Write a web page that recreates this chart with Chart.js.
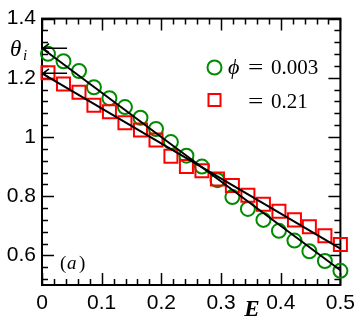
<!DOCTYPE html>
<html><head><meta charset="utf-8">
<script src="https://cdn.jsdelivr.net/npm/chart.js@4/dist/chart.umd.min.js"></script>
<style>html,body{margin:0;padding:0;background:#fff}canvas{display:block}</style>
</head><body>
<canvas id="c" width="361" height="321"></canvas>
<script>
// ---- data ----
const E = [0.010, 0.036, 0.062, 0.087, 0.113, 0.139, 0.165, 0.191, 0.216, 0.242,
           0.268, 0.294, 0.319, 0.345, 0.371, 0.397, 0.423, 0.448, 0.474, 0.500];
const thetaPhi003 = [1.281, 1.256, 1.223, 1.168, 1.131, 1.101, 1.065, 1.027, 0.983, 0.937,
                     0.900, 0.854, 0.797, 0.757, 0.720, 0.683, 0.650, 0.614, 0.581, 0.548];
const thetaPhi021 = [1.217, 1.179, 1.151, 1.107, 1.085, 1.048, 1.024, 0.990, 0.935, 0.900,
                     0.886, 0.858, 0.836, 0.803, 0.773, 0.749, 0.720, 0.697, 0.666, 0.637];
const fitE = [0, 0.5];
const fitPhi003 = [1.300, 0.550];
const fitPhi021 = [1.215, 0.623];
const xTicks = [0, 0.1, 0.2, 0.3, 0.4, 0.5];
const xTickLabels = ['0', '0.1', '0.2', '0.3', '0.4', '0.5'];
const yTicks = [0.6, 0.8, 1.0, 1.2, 1.4];
const yTickLabels = ['0.6', '0.8', '1', '1.2', '1.4'];
const xMinorStep = 0.02, yMinorStep = 0.04;
const arrowLenE = 0.042;
const legendLabels = ['0.003', '0.21'];

const GREEN = 'rgb(0,140,0)', RED = 'rgb(255,0,0)';
const SANS = '"Liberation Sans", Arial, sans-serif';
const SERIF = '"Liberation Serif", "Times New Roman", serif';

const pts = (xs, ys) => xs.map((x, i) => ({x, y: ys[i]}));

function drawEq(ctx, x, y) {
  // wide "=" as real text, horizontally stretched
  ctx.save();
  ctx.translate(x, y);
  ctx.scale(1.3, 1);
  ctx.font = '21px ' + SERIF;
  ctx.fillText('=', 0, 0);
  ctx.restore();
}

const decor = {
  id: 'decor',
  beforeDatasetsDraw(chart) {
    const {ctx, chartArea: a, scales: {x, y}} = chart;
    ctx.save();
    ctx.strokeStyle = '#000';
    ctx.lineWidth = 1.5;
    ctx.beginPath();
    for (let k = 0; ; k++) {
      const v = x.min + k * xMinorStep;
      if (v > x.max + 1e-9) break;
      const major = xTicks.some(t => Math.abs(t - v) < 1e-6);
      const len = major ? 12 : 6;
      const px = Math.round(x.getPixelForValue(v)) + 0.5;
      ctx.moveTo(px, a.bottom); ctx.lineTo(px, a.bottom - len);
      ctx.moveTo(px, a.top); ctx.lineTo(px, a.top + len);
    }
    for (let k = 0; ; k++) {
      const v = 0.52 + k * yMinorStep;
      if (v > y.max + 1e-9) break;
      const major = yTicks.some(t => Math.abs(t - v) < 1e-6);
      const len = major ? 12 : 6;
      const py = Math.round(y.getPixelForValue(v)) + 0.5;
      ctx.moveTo(a.left, py); ctx.lineTo(a.left + len, py);
      ctx.moveTo(a.right, py); ctx.lineTo(a.right - len, py);
    }
    ctx.stroke();
    ctx.lineWidth = 2;
    ctx.strokeRect(a.left, a.top, a.right - a.left, a.bottom - a.top);
    ctx.restore();
  },
  afterDatasetsDraw(chart) {
    const {ctx, scales: {x, y}} = chart;
    ctx.save();
    ctx.strokeStyle = '#000';
    ctx.lineWidth = 1.5;
    [fitPhi003[0], fitPhi021[0]].forEach(t => {
      const py = y.getPixelForValue(t);
      const x0 = x.getPixelForValue(0), x1 = x.getPixelForValue(arrowLenE);
      ctx.beginPath();
      ctx.moveTo(x0, py); ctx.lineTo(x1, py);
      ctx.moveTo(x0 + 7, py - 4.5); ctx.lineTo(x0 + 1, py); ctx.lineTo(x0 + 7, py + 4.5);
      ctx.stroke();
    });
    ctx.fillStyle = '#000';
    ctx.textBaseline = 'alphabetic';
    ctx.textAlign = 'left';
    const ty = y.getPixelForValue(fitPhi003[0]);
    ctx.font = 'italic 23px ' + SERIF;
    ctx.fillText('θ', 10, ty + 8);
    ctx.font = 'italic 15px ' + SERIF;
    ctx.fillText('i', 23, ty + 12);
    // legend
    ctx.lineWidth = 2;
    ctx.strokeStyle = GREEN;
    ctx.beginPath(); ctx.arc(214.5, 67.5, 7, 0, Math.PI * 2); ctx.stroke();
    ctx.strokeStyle = RED;
    ctx.strokeRect(208.5, 94, 12, 12);
    ctx.fillStyle = '#000';
    ctx.font = 'italic 22px ' + SERIF;
    ctx.fillText('ϕ', 228, 74);
    drawEq(ctx, 248, 74);
    ctx.font = '21px ' + SERIF;
    ctx.fillText(legendLabels[0], 271, 74);
    drawEq(ctx, 248, 108);
    ctx.font = '21px ' + SERIF;
    ctx.fillText(legendLabels[1], 271, 108);
    // panel label (a)
    ctx.font = '19px ' + SERIF;
    ctx.fillText('(', 60, 269);
    ctx.font = 'italic 19px ' + SERIF;
    ctx.fillText('a', 67, 269);
    ctx.font = '19px ' + SERIF;
    ctx.fillText(')', 79, 269);
    // axis title E
    ctx.font = 'bold italic 23px ' + SERIF;
    ctx.textAlign = 'center';
    ctx.fillText('E', 252, 316);
    ctx.restore();
  }
};

new Chart(document.getElementById('c'), {
  type: 'scatter',
  data: {
    datasets: [
      {type: 'line', data: pts(fitE, fitPhi003), borderColor: '#000', borderWidth: 2,
       pointRadius: 0, fill: false, order: 0, clip: false},
      {type: 'line', data: pts(fitE, fitPhi021), borderColor: '#000', borderWidth: 2,
       pointRadius: 0, fill: false, order: 0, clip: false},
      {data: pts(E, thetaPhi003), pointStyle: 'circle', pointRadius: 7,
       borderColor: GREEN, backgroundColor: 'rgba(0,0,0,0)', borderWidth: 2, order: 2, clip: false},
      {data: pts(E, thetaPhi021), pointStyle: 'rect', pointRadius: 9.2,
       borderColor: RED, backgroundColor: 'rgba(0,0,0,0)', borderWidth: 2, order: 1, clip: false}
    ]
  },
  options: {
    responsive: false,
    animation: false,
    devicePixelRatio: 1,
    layout: {padding: {top: 13, right: 20, left: 0, bottom: 0}},
    plugins: {legend: {display: false}, tooltip: {enabled: false}},
    scales: {
      x: {
        type: 'linear', min: 0, max: 0.5,
        grid: {display: false, drawTicks: false},
        border: {display: false},
        afterBuildTicks: s => { s.ticks = xTicks.map(v => ({value: v})); },
        afterFit: s => { s.height = 36; },
        ticks: {
          padding: 6, color: '#000', maxRotation: 0, autoSkip: false,
          font: {family: SANS, size: 21},
          callback: (v) => { const i = xTicks.findIndex(t => Math.abs(t - v) < 1e-6); return i >= 0 ? xTickLabels[i] : ''; }
        }
      },
      y: {
        type: 'linear', min: 0.5, max: 1.4,
        grid: {display: false, drawTicks: false},
        border: {display: false},
        afterBuildTicks: s => { s.ticks = yTicks.map(v => ({value: v})); },
        afterFit: s => { s.width = 42; },
        ticks: {
          padding: 6, color: '#000', autoSkip: false,
          font: {family: SANS, size: 21},
          callback: (v) => { const i = yTicks.findIndex(t => Math.abs(t - v) < 1e-6); return i >= 0 ? yTickLabels[i] : ''; }
        }
      }
    }
  },
  plugins: [decor]
});
</script>
</body></html>
